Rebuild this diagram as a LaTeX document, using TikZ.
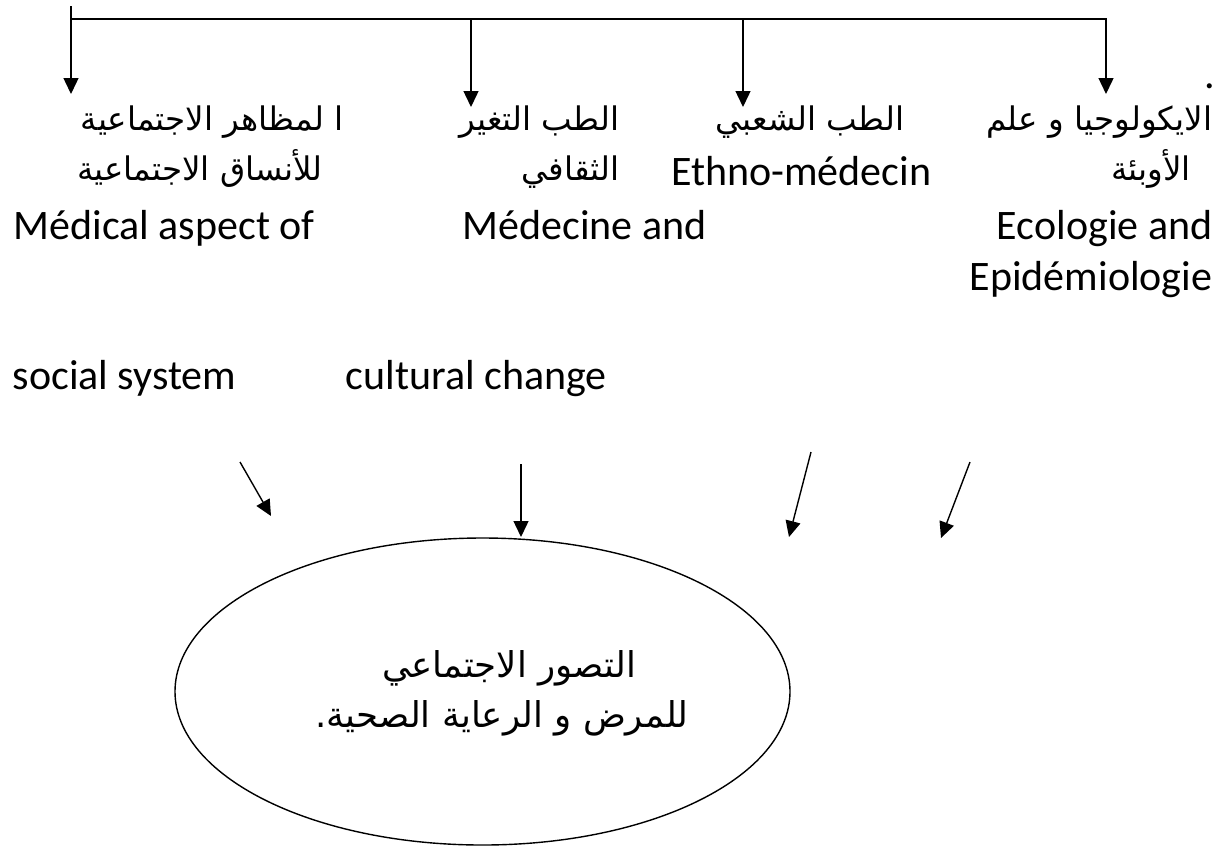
\documentclass[tikz,border=0pt]{standalone}
\usepackage{fontspec}
\setmainfont{Carlito}
\newfontfamily\arabicfont[Script=Arabic]{DejaVu Sans}
\TeXXeTstate=1
\usetikzlibrary{arrows.meta,shapes.geometric}

\begin{document}
\begin{tikzpicture}[x=1pt, y=-1pt, line width=1.4pt,
	lat/.style={inner sep=0pt, font=\fontsize{42}{50}\selectfont},
	ar/.style={inner sep=0pt, font=\fontsize{32.5}{40}\arabicfont},
	arbig/.style={inner sep=0pt, font=\fontsize{35.5}{42}\arabicfont},
	tip/.style={-{Triangle[length=16pt,width=15pt]}}]
	\useasboundingbox (0,0) rectangle (1225,847);

	% top bar
	\coordinate (top) at (71,6);
	\coordinate (b1) at (71,19);
	\coordinate (b2) at (471,19);
	\coordinate (b3) at (743,19);
	\coordinate (t1) at (71,94);
	\coordinate (t2) at (471,107);
	\coordinate (t3) at (743,107);
	\coordinate (t4) at (1106,94);
	\draw[tip] (top) -- (t1);
	\draw[tip] (b1) -| (t4);
	\draw[tip] (b2) -- (t2);
	\draw[tip] (b3) -- (t3);

	% medical aspect
	\node[ar, anchor=base] (aspAr1) at (212,130) {\beginR ا لمظاهر الاجتماعية\endR};
	\node[ar, anchor=base] (aspAr2) at (200,180) {\beginR للأنساق الاجتماعية\endR};
	\node[lat, anchor=base west] (aspEn1) at (13,239) {Médical aspect of};
	\node[lat, anchor=base west] (aspEn2) at (12,389) {social system};

	% cultural change
	\node[ar, anchor=base east] (chgAr1) at (620,130) {\beginR الطب التغير\endR};
	\node[ar, anchor=base east] (chgAr2) at (620,180) {\beginR الثقافي\endR};
	\node[lat, anchor=base west] (chgEn1) at (462,239) {Médecine and};
	\node[lat, anchor=base west] (chgEn2) at (345,389) {cultural change};

	% ethno
	\node[ar, anchor=base] (ethAr) at (810,130) {\beginR الطب الشعبي\endR};
	\node[lat, anchor=base east] (ethEn) at (932,185) {Ethno-médecin};

	% ecology
	\node[lat, anchor=base] (dot) at (1210,88) {.};
	\node[ar, anchor=base east] (ecoAr1) at (1213,130) {\beginR الايكولوجيا و علم\endR};
	\node[ar, anchor=base] (ecoAr2) at (1151,180) {\beginR الأوبئة\endR};
	\node[lat, anchor=base east] (ecoEn1) at (1213,239) {Ecologie and};
	\node[lat, anchor=base east] (ecoEn2) at (1213,290) {Epidémiologie};

	% lower arrows
	\coordinate (s1) at (240,462);
	\coordinate (e1) at (271,516);
	\coordinate (s2) at (521,464);
	\coordinate (e2) at (521,537);
	\coordinate (s3) at (811,452);
	\coordinate (e3) at (789,537);
	\coordinate (s4) at (970,462);
	\coordinate (e4) at (941,538);
	\draw[tip] (s1) -- (e1);
	\draw[tip] (s2) -- (e2);
	\draw[tip] (s3) -- (e3);
	\draw[tip] (s4) -- (e4);

	% ellipse
	\node[draw, ellipse, inner sep=0pt, minimum width=615pt, minimum height=307pt] (focus) at (482.5,691.5) {};
	\node[arbig, anchor=base] (focusAr1) at (509,677) {\beginR التصور الاجتماعي\endR};
	\node[arbig, anchor=base] (focusAr2) at (502,727) {\beginR للمرض و الرعاية الصحية.\endR};
\end{tikzpicture}
\end{document}
